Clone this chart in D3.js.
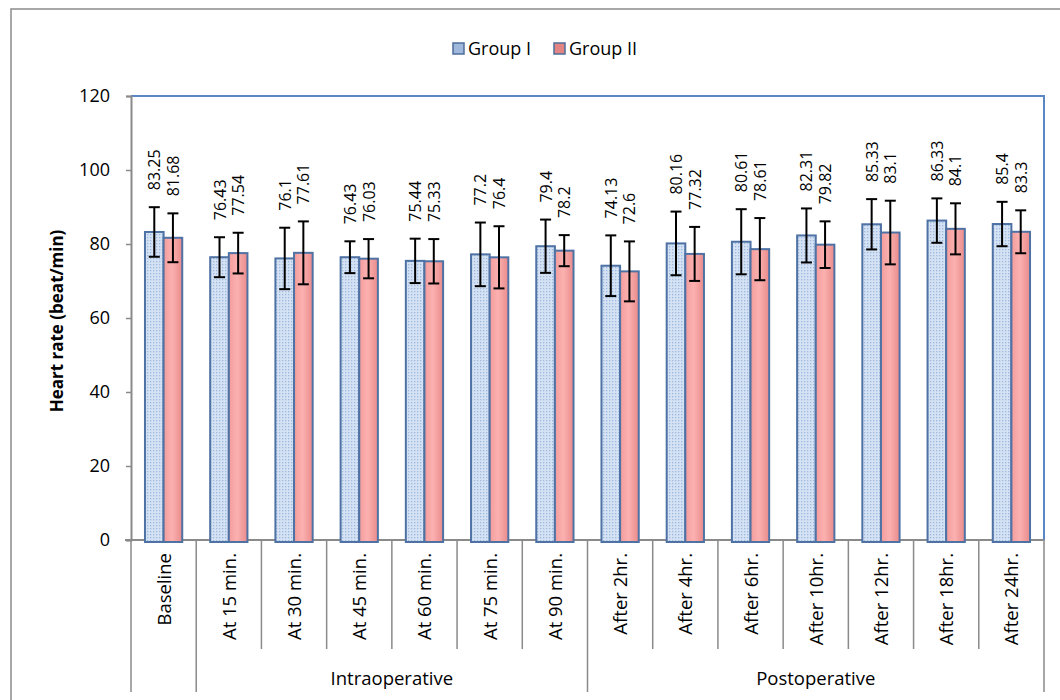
<!DOCTYPE html>
<html>
<head>
<meta charset="utf-8">
<script src="https://cdn.jsdelivr.net/npm/d3@7"></script>
<style>
  body { margin: 0; background: #fff; }
  svg { display: block; font-family: 'Open Sans', sans-serif; }
</style>
</head>
<body>
<div class="hr-chart"></div>
<script>
// values
const categories = ['Baseline', 'At 15 min.', 'At 30 min.', 'At 45 min.', 'At 60 min.', 'At 75 min.', 'At 90 min.',
  'After 2hr.', 'After 4hr.', 'After 6hr.', 'After 10hr.', 'After 12hr.', 'After 18hr.', 'After 24hr.'];
const phases = [
  { name: '', first: 'Baseline', last: 'Baseline' },
  { name: 'Intraoperative', first: 'At 15 min.', last: 'At 90 min.' },
  { name: 'Postoperative', first: 'After 2hr.', last: 'After 24hr.' }
];
const seriesNames = ['Group I', 'Group II'];
const group1 = [83.25, 76.43, 76.1, 76.43, 75.44, 77.2, 79.4, 74.13, 80.16, 80.61, 82.31, 85.33, 86.33, 85.4];
const group2 = [81.68, 77.54, 77.61, 76.03, 75.33, 76.4, 78.2, 72.6, 77.32, 78.61, 79.82, 83.1, 84.1, 83.3];
const sd1 = [6.7, 5.4, 8.3, 4.3, 6.0, 8.6, 7.2, 8.2, 8.6, 8.8, 7.3, 6.8, 6.0, 6.0];
const sd2 = [6.6, 5.5, 8.5, 5.3, 6.0, 8.4, 4.2, 8.1, 7.3, 8.4, 6.3, 8.6, 6.9, 5.8];
const yTicks = [0, 20, 40, 60, 80, 100, 120];

const width = 1060, height = 700;
const plot = { left: 131, right: 1044, top: 96, bottom: 540 };

const svg = d3.select('.hr-chart')
  .append('svg')
  .attr('width', width)
  .attr('height', height);

const defs = svg.append('defs');

// dotted light-blue fill for group I
const dots = defs.append('pattern')
  .attr('id', 'dots')
  .attr('width', 3)
  .attr('height', 3)
  .attr('patternUnits', 'userSpaceOnUse');
dots.append('rect').attr('width', 3).attr('height', 3).attr('fill', '#d4e2f4');
dots.append('rect').attr('width', 1.3).attr('height', 1.3).attr('fill', '#9fbadf');

const pink = defs.append('linearGradient')
  .attr('id', 'pink')
  .attr('x1', 0).attr('x2', 1).attr('y1', 0).attr('y2', 0);
pink.append('stop').attr('offset', '0%').attr('stop-color', '#f39c9c');
pink.append('stop').attr('offset', '45%').attr('stop-color', '#fbb1b0');
pink.append('stop').attr('offset', '100%').attr('stop-color', '#e98b8b');

const fills = ['url(#dots)', 'url(#pink)'];
const swatchFills = ['#9fb8db', '#e48585'];

// outer chart frame
svg.append('rect')
  .attr('x', 11)
  .attr('y', 9)
  .attr('width', 1200)
  .attr('height', 900)
  .attr('fill', 'none')
  .attr('stroke', '#8c8c8c')
  .attr('stroke-width', 1.5);

const xScale = d3.scaleBand()
  .domain(categories)
  .range([plot.left, plot.right]);

const xInner = d3.scaleBand()
  .domain([0, 1])
  .range([0, xScale.bandwidth()])
  .paddingOuter(0.75);

const yScale = d3.scaleLinear()
  .domain([0, 120])
  .range([plot.bottom, plot.top]);

// plot border: blue top / right
svg.append('path')
  .attr('d', `M${plot.left},${yScale(120)}H${plot.right}V${yScale(0)}`)
  .attr('fill', 'none')
  .attr('stroke', '#5b87c5')
  .attr('stroke-width', 2);

// y axis
const yAxis = svg.append('g')
  .attr('transform', `translate(${plot.left},0)`)
  .call(d3.axisLeft(yScale).tickValues(yTicks).tickSize(5).tickPadding(16));
yAxis.select('.domain').attr('stroke', '#8a8a8a').attr('stroke-width', 2);
yAxis.selectAll('.tick line').attr('stroke', '#8a8a8a').attr('stroke-width', 1.5);
yAxis.selectAll('.tick text')
  .attr('fill', '#000')
  .style('font-size', '18px')
  .style('font-family', "'Open Sans', sans-serif");

svg.append('text')
  .attr('transform', `translate(63, ${(plot.top + plot.bottom) / 2 + 3}) rotate(-90)`)
  .attr('text-anchor', 'middle')
  .style('font-size', '17px')
  .style('font-weight', 'bold')
  .text('Heart rate (beat/min)');

// category axis with nested group ticks
const groupEdges = new Set();
phases.forEach(p => {
  groupEdges.add(xScale(p.first));
  groupEdges.add(xScale(p.last) + xScale.bandwidth());
});
const edges = categories.map(c => xScale(c)).concat([xScale(categories[categories.length - 1]) + xScale.bandwidth()]);

svg.append('g')
  .selectAll('line')
  .data(edges)
  .join('line')
  .attr('x1', d => d)
  .attr('x2', d => d)
  .attr('y1', plot.bottom)
  .attr('y2', d => groupEdges.has(d) ? 692 : 649)
  .attr('stroke', '#8a8a8a')
  .attr('stroke-width', 1.5);

svg.append('line')
  .attr('x1', plot.left - 6)
  .attr('x2', plot.right)
  .attr('y1', plot.bottom)
  .attr('y2', plot.bottom)
  .attr('stroke', '#8a8a8a')
  .attr('stroke-width', 2);

svg.append('g')
  .selectAll('text')
  .data(categories)
  .join('text')
  .attr('transform', d => `translate(${xScale(d) + xScale.bandwidth() / 2 + 7}, 553) rotate(-90)`)
  .attr('text-anchor', 'end')
  .style('font-size', '18.5px')
  .text(d => d);

svg.append('g')
  .selectAll('text')
  .data(phases.filter(p => p.name))
  .join('text')
  .attr('x', p => (xScale(p.first) + xScale(p.last) + xScale.bandwidth()) / 2)
  .attr('y', 685)
  .attr('text-anchor', 'middle')
  .style('font-size', '18.5px')
  .text(p => p.name);

// bars
const series = [group1, group2];
const sds = [sd1, sd2];
const rows = [];
categories.forEach((c, i) => {
  series.forEach((s, k) => rows.push({ cat: c, k, value: s[i], sd: sds[k][i] }));
});

const cx = d => xScale(d.cat) + xInner(d.k) + xInner.bandwidth() / 2;

svg.append('g')
  .selectAll('rect')
  .data(rows)
  .join('rect')
  .attr('x', d => xScale(d.cat) + xInner(d.k))
  .attr('y', d => yScale(d.value))
  .attr('width', xInner.bandwidth())
  .attr('height', d => yScale(0) - yScale(d.value) + 2)
  .attr('fill', d => fills[d.k])
  .attr('stroke', '#4f72a4')
  .attr('stroke-width', 2);

// error bars
const err = svg.append('g')
  .attr('stroke', '#000')
  .attr('stroke-width', 2);

err.selectAll('.stem')
  .data(rows)
  .join('line')
  .attr('class', 'stem')
  .attr('x1', cx)
  .attr('x2', cx)
  .attr('y1', d => yScale(d.value + d.sd))
  .attr('y2', d => yScale(d.value - d.sd));

err.selectAll('.cap')
  .data(rows.flatMap(d => [{ d, v: d.value + d.sd }, { d, v: d.value - d.sd }]))
  .join('line')
  .attr('class', 'cap')
  .attr('x1', e => cx(e.d) - 5.5)
  .attr('x2', e => cx(e.d) + 5.5)
  .attr('y1', e => yScale(e.v))
  .attr('y2', e => yScale(e.v));

// value labels above the error bars
svg.append('g')
  .selectAll('text')
  .data(rows)
  .join('text')
  .attr('transform', d => `translate(${cx(d) + 6}, ${yScale(d.value + d.sd) - 17}) rotate(-90)`)
  .attr('text-anchor', 'start')
  .style('font-size', '16px')
  .text(d => d.value);

// legend
const legend = svg.append('g')
  .selectAll('g')
  .data(seriesNames)
  .join('g')
  .attr('transform', (d, i) => `translate(${453 + i * 101}, 43)`);

legend.append('rect')
  .attr('width', 11)
  .attr('height', 11)
  .attr('fill', (d, i) => swatchFills[i])
  .attr('stroke', '#4d6d99')
  .attr('stroke-width', 1.5);

legend.append('text')
  .attr('x', 15)
  .attr('y', 12)
  .style('font-size', '18px')
  .text(d => d);
</script>
</body>
</html>
